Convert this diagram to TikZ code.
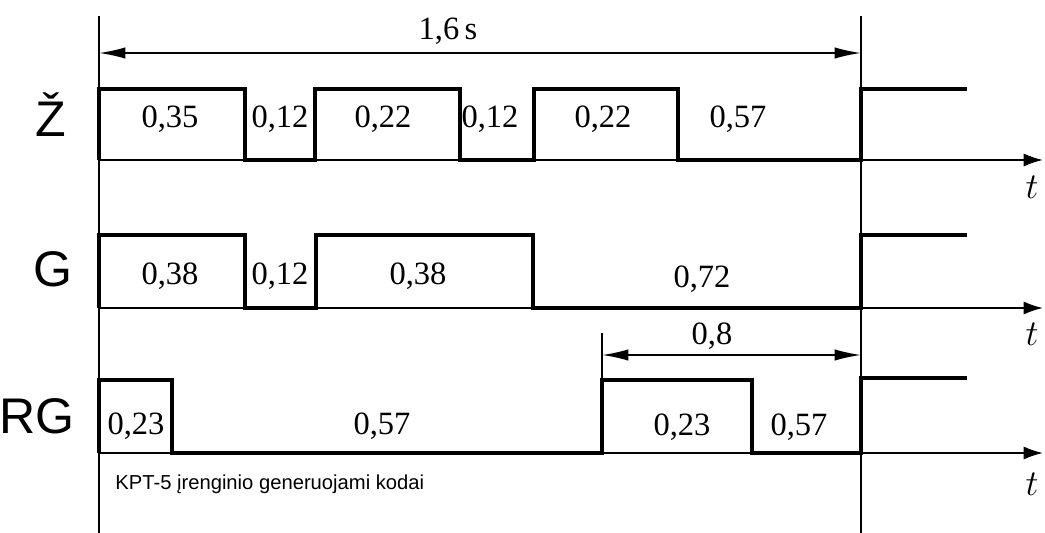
\documentclass[tikz,border=0pt]{standalone}
\usepackage{fontspec}
\setmainfont{Liberation Serif}
\setsansfont{Liberation Sans}
\usetikzlibrary{arrows.meta}
\tikzstyle{signal} = [draw, line width=2.1pt, line join=miter]
\tikzstyle{axis} = [draw, line width=1.1pt, -{Latex[length=11pt,width=7.5pt]}]
\tikzstyle{limit} = [draw, line width=0.7pt]
\tikzstyle{dim} = [draw, line width=1pt, {Latex[length=15pt,width=6.5pt]}-{Latex[length=15pt,width=6.5pt]}]
\tikzstyle{value} = [anchor=base, inner sep=0pt, font=\fontsize{18.5}{18}\selectfont]
\tikzstyle{code} = [anchor=base, inner sep=0pt, font=\sffamily\fontsize{28.5}{28}\selectfont]
\tikzstyle{tlabel} = [anchor=base, inner sep=0pt, font=\itshape\fontsize{21}{21}\selectfont]
\begin{document}
\begin{tikzpicture}[x=0.02cm, y=-0.02cm]
					\useasboundingbox (0,0) rectangle (1045,533);
					\coordinate (left top) at (99,16);
					\coordinate (left end) at (99,533);
					\coordinate (right top) at (861,16);
					\coordinate (right end) at (861,533);
					\coordinate (period start) at (99,53);
					\coordinate (period end) at (861,53);
					\coordinate (half top) at (602,333);
					\coordinate (half start) at (602,355);
					\coordinate (half end) at (861,355);
					\path [limit] (left top) -- (left end);
					\path [limit] (right top) -- (right end);
					\path [limit] (half top) -- (602,380);
					\path [dim] (period start) -- (period end);
					\path [dim] (half start) -- (half end);
					\node [value] (period) at (448,40) {1,6\,s};
					\node [value] (half) at (712,345) {0,8};
					\foreach \y/\ty in {160/199, 308/346, 453/496} {
						\path [axis] (99,\y) -- (1043,\y);
						\node [tlabel] at (1032,\ty) {$t$};
					}
					\path [signal] (99,160) -- (99,89) -- (245,89) -- (245,160) -- (315,160) -- (315,89) -- (460,89) -- (460,160) -- (534,160) -- (534,89) -- (678,89) -- (678,160) -- (861,160) -- (861,89) -- (967,89);
					\path [signal] (99,308) -- (99,235) -- (245,235) -- (245,308) -- (316,308) -- (316,235) -- (533,235) -- (533,308) -- (861,308) -- (861,235) -- (967,235);
					\path [signal] (99,453) -- (99,380) -- (172,380) -- (172,453) -- (602,453) -- (602,380) -- (752,380) -- (752,453) -- (861,453) -- (861,378) -- (967,378);
					\node [code] (zh) at (51,137) {Ž};
					\node [code] (g) at (53,287) {G};
					\node [code] (rg) at (37,434) {RG};
					\node [value] (zh1) at (170,128) {0,35};
					\node [value] (zh2) at (280,128) {0,12};
					\node [value] (zh3) at (383,128) {0,22};
					\node [value] (zh4) at (490,128) {0,12};
					\node [value] (zh5) at (603,128) {0,22};
					\node [value] (zh6) at (738,128) {0,57};
					\node [value] (g1) at (170,285) {0,38};
					\node [value] (g2) at (280,285) {0,12};
					\node [value] (g3) at (418,285) {0,38};
					\node [value] (g4) at (702,288) {0,72};
					\node [value] (rg1) at (136,435) {0,23};
					\node [value] (rg2) at (382,435) {0,57};
					\node [value] (rg3) at (682,436) {0,23};
					\node [value] (rg4) at (799,436) {0,57};
					\node [anchor=base west, inner sep=0pt, font=\sffamily\fontsize{11.5}{13}\selectfont] (caption) at (115,490) {KPT-5 įrenginio generuojami kodai};
				\end{tikzpicture}
\end{document}
